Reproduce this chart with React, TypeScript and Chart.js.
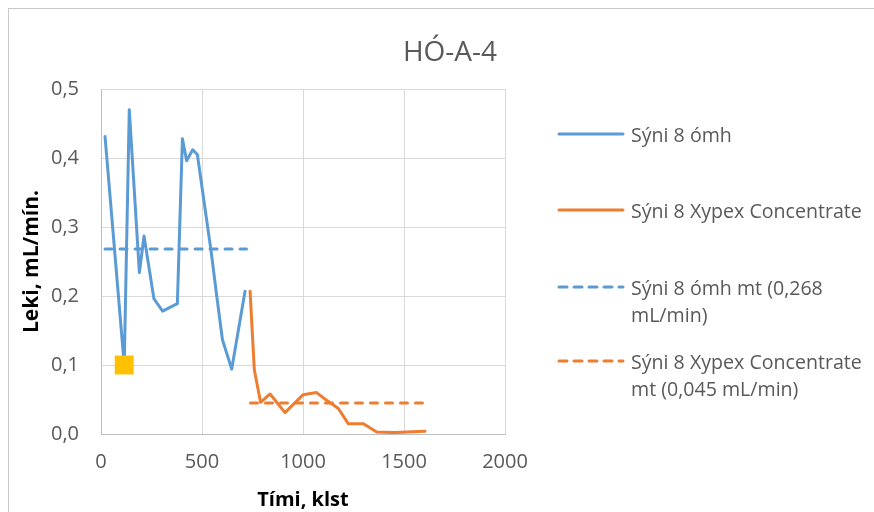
import { useEffect, useRef } from "react";
import { Chart, registerables } from "chart.js";

Chart.register(...registerables);

const chartTitle = "HÓ-A-4";
const xAxisTitle = "Tími, klst";
const yAxisTitle = "Leki, mL/mín.";

const xTickValues = [0, 500, 1000, 1500, 2000];
const yTickValues = [0, 0.1, 0.2, 0.3, 0.4, 0.5];

const seriesNames = [
  "Sýni 8 ómh",
  "Sýni 8 Xypex Concentrate",
  "Sýni 8 ómh mt (0,268 mL/min)",
  "Sýni 8 Xypex Concentrate mt (0,045 mL/min)",
];
const legendLines = [
  ["Sýni 8 ómh"],
  ["Sýni 8 Xypex Concentrate"],
  ["Sýni 8 ómh mt (0,268", "mL/min)"],
  ["Sýni 8 Xypex Concentrate", "mt (0,045 mL/min)"],
];

const untreatedX = [20, 115, 140, 190, 213, 262, 305, 378, 403, 424, 454, 477, 545, 573, 601, 647, 713];
const untreatedY = [0.431, 0.1, 0.47, 0.234, 0.287, 0.196, 0.178, 0.189, 0.428, 0.396, 0.412, 0.405, 0.265, 0.2, 0.137, 0.094, 0.207];

const xypexX = [738, 759, 790, 837, 911, 1001, 1067, 1117, 1175, 1224, 1299, 1365, 1450, 1604];
const xypexY = [0.207, 0.093, 0.046, 0.058, 0.031, 0.057, 0.06, 0.049, 0.037, 0.015, 0.015, 0.003, 0.002, 0.004];

const untreatedMeanX = [20, 720];
const untreatedMeanY = [0.268, 0.268];
const xypexMeanX = [740, 1600];
const xypexMeanY = [0.045, 0.045];

const markerX = [115];
const markerY = [0.1];

const BLUE = "#5B9BD5";
const ORANGE = "#ED7D31";
const GOLD = "#FFC000";
const TEXT = "#595959";
const FONT = "'Open Sans', 'DejaVu Sans', sans-serif";

const pts = (xs: number[], ys: number[]) => xs.map((x, i) => ({ x, y: ys[i] }));

const legendStyles = [
  { color: BLUE, dashed: false },
  { color: ORANGE, dashed: false },
  { color: BLUE, dashed: true },
  { color: ORANGE, dashed: true },
];
const legendTops = [134, 210, 287, 361];

export default function App() {
  const canvasRef = useRef<HTMLCanvasElement | null>(null);

  useEffect(() => {
    const canvas = canvasRef.current;
    if (!canvas) return;
    const lineBase = {
      borderWidth: 3,
      pointRadius: 0,
      pointHoverRadius: 0,
      tension: 0,
      borderJoinStyle: "round" as const,
      borderCapStyle: "round" as const,
      fill: false,
    };
    const chart = new Chart(canvas, {
      type: "line",
      data: {
        datasets: [
          {
            type: "scatter",
            label: "marker",
            data: pts(markerX, markerY),
            pointStyle: "rect",
            pointRadius: 13.4,
            pointHoverRadius: 13.4,
            pointBackgroundColor: GOLD,
            pointBorderWidth: 0,
            backgroundColor: GOLD,
            borderColor: GOLD,
            showLine: false,
            order: 0,
          },
          {
            ...lineBase,
            label: seriesNames[0],
            data: pts(untreatedX, untreatedY),
            borderColor: BLUE,
            backgroundColor: BLUE,
            order: 1,
          },
          {
            ...lineBase,
            label: seriesNames[1],
            data: pts(xypexX, xypexY),
            borderColor: ORANGE,
            backgroundColor: ORANGE,
            order: 2,
          },
          {
            ...lineBase,
            label: seriesNames[2],
            data: pts(untreatedMeanX, untreatedMeanY),
            borderColor: BLUE,
            backgroundColor: BLUE,
            borderDash: [7, 8],
            order: 3,
          },
          {
            ...lineBase,
            label: seriesNames[3],
            data: pts(xypexMeanX, xypexMeanY),
            borderColor: ORANGE,
            backgroundColor: ORANGE,
            borderDash: [7, 8],
            order: 4,
          },
        ],
      },
      options: {
        animation: false,
        responsive: false,
        devicePixelRatio: 1,
        layout: { padding: { top: 80, right: 369, left: 0, bottom: 0 } },
        plugins: {
          legend: { display: false },
          tooltip: { enabled: false },
          title: { display: false },
        },
        scales: {
          x: {
            type: "linear",
            min: xTickValues[0],
            max: xTickValues[xTickValues.length - 1],
            afterBuildTicks: (scale: any) => {
              scale.ticks = xTickValues.map((v) => ({ value: v }));
            },
            afterFit: (scale: any) => {
              scale.height = 78;
            },
            ticks: {
              color: TEXT,
              font: { family: FONT, size: 20 },
              padding: 16,
              maxRotation: 0,
              callback: (v: any) => String(v),
            },
            grid: { color: "#D9D9D9", lineWidth: 1, drawTicks: false },
            border: { color: "#BFBFBF", width: 1 },
            title: {
              display: true,
              text: xAxisTitle,
              color: "#000000",
              font: { family: FONT, size: 20, weight: "bold" },
              padding: { top: 0, bottom: 0 },
            },
          },
          y: {
            type: "linear",
            min: yTickValues[0],
            max: yTickValues[yTickValues.length - 1],
            afterBuildTicks: (scale: any) => {
              scale.ticks = yTickValues.map((v) => ({ value: v }));
            },
            afterFit: (scale: any) => {
              scale.width = 92;
            },
            ticks: {
              color: TEXT,
              font: { family: FONT, size: 20 },
              padding: 22,
              callback: (v: any) => Number(v).toFixed(1).replace(".", ","),
            },
            grid: { color: "#D9D9D9", lineWidth: 1, drawTicks: false },
            border: { color: "#BFBFBF", width: 1 },
            title: {
              display: true,
              text: yAxisTitle,
              color: "#000000",
              font: { family: FONT, size: 21, weight: "bold" },
              padding: { top: 10, bottom: 0 },
            },
          },
        },
      },
    } as any);
    return () => chart.destroy();
  }, []);

  return (
    <div
      style={{
        position: "fixed",
        left: 8,
        top: 8,
        width: 866,
        height: 504,
        overflow: "hidden",
        borderLeft: "1px solid #C8C8C8",
        borderTop: "1px solid #C8C8C8",
        boxSizing: "border-box",
        background: "#FFFFFF",
        fontFamily: FONT,
      }}
    >
      <canvas
        ref={canvasRef}
        width={865}
        height={503}
        style={{ position: "absolute", left: 0, top: 0, width: 865, height: 503 }}
      />
      <div
        style={{
          position: "absolute",
          left: 0,
          width: 882,
          top: 41 - 20,
          height: 40,
          lineHeight: "40px",
          textAlign: "center",
          fontSize: 28,
          fontWeight: 400,
          color: TEXT,
          whiteSpace: "nowrap",
        }}
      >
        {chartTitle}
      </div>
      {legendLines.map((lines, i) => (
        <div key={i}>
          <svg
            width={70}
            height={10}
            style={{ position: "absolute", left: 547, top: legendTops[i] - 9 - 5 }}
          >
            <line
              x1={3}
              y1={5}
              x2={67}
              y2={5}
              stroke={legendStyles[i].color}
              strokeWidth={3}
              strokeLinecap="round"
              strokeDasharray={legendStyles[i].dashed ? "8 7" : undefined}
            />
          </svg>
          <div
            style={{
              position: "absolute",
              left: 622,
              top: legendTops[i] - 9 - 13.5,
              fontSize: 19.6,
              lineHeight: "27px",
              color: TEXT,
              whiteSpace: "nowrap",
            }}
          >
            {lines.map((t, j) => (
              <div key={j}>{t}</div>
            ))}
          </div>
        </div>
      ))}
    </div>
  );
}
